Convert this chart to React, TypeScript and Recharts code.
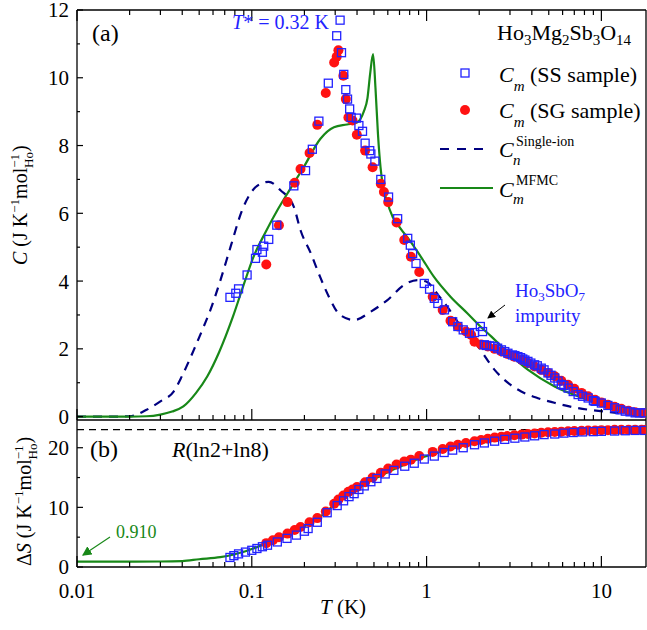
import React from 'react'
import { ComposedChart, Line, Scatter, XAxis, YAxis, ReferenceLine } from 'recharts'

// panel (a): heat capacity, [T (K), C (J K^-1 mol_Ho^-1)]
const ssHeat: [number, number][] = [
  [0.075, 3.52], [0.081, 3.64], [0.084, 3.77], [0.094, 4.18], [0.105, 4.67], [0.107, 4.93],
  [0.115, 4.85], [0.117, 5.03], [0.125, 5.23], [0.139, 5.65], [0.174, 6.81], [0.203, 7.26],
  [0.222, 7.89], [0.242, 8.72], [0.274, 9.84], [0.306, 11.24], [0.32, 11.7], [0.326, 10.74],
  [0.336, 10.1], [0.345, 9.65], [0.353, 9.37], [0.363, 9.08], [0.37, 8.83], [0.397, 8.81],
  [0.41, 8.59], [0.43, 8.42], [0.445, 8.07], [0.473, 7.85], [0.48, 7.75], [0.506, 7.54],
  [0.547, 7.0], [0.606, 6.48], [0.683, 5.84], [0.78, 5.26], [0.807, 5.06], [0.832, 4.81],
  [0.87, 4.52], [0.97, 3.93], [1.04, 3.76], [1.107, 3.49], [1.16, 3.34], [1.265, 3.15],
  [1.41, 2.8], [1.51, 2.66], [1.62, 2.56], [1.76, 2.46], [1.88, 2.48], [2.03, 2.66],
  [2.09, 2.51], [2.14, 2.12], [2.2, 2.1], [2.3, 2.09], [2.45, 2.07], [2.55, 2.02],
  [2.68, 1.97], [2.8, 1.92], [2.92, 1.87], [3.1, 1.82], [3.2, 1.8], [3.33, 1.77],
  [3.45, 1.74], [3.55, 1.7], [3.65, 1.67], [3.8, 1.63], [3.95, 1.58], [4.15, 1.53],
  [4.3, 1.5], [4.53, 1.43], [4.7, 1.38], [4.95, 1.29], [5.15, 1.22], [5.41, 1.14],
  [5.65, 1.05], [5.9, 0.95], [6.1, 0.92], [6.45, 0.84], [6.9, 0.74], [7.36, 0.65],
  [7.8, 0.6], [8.4, 0.55], [9.0, 0.47], [9.2, 0.45], [10.0, 0.4], [10.9, 0.33],
  [11.9, 0.26], [12.8, 0.2], [13.7, 0.16], [14.6, 0.14], [15.6, 0.11], [16.6, 0.11], [17.7, 0.11],
]

const sgHeat: [number, number][] = [
  [0.121, 4.49], [0.143, 5.65], [0.16, 6.33], [0.176, 6.9], [0.19, 7.31], [0.214, 7.78],
  [0.237, 8.61], [0.265, 9.55], [0.296, 10.45], [0.306, 10.62], [0.313, 10.81], [0.334, 10.06],
  [0.345, 9.37], [0.357, 8.83], [0.377, 8.74], [0.399, 8.32], [0.445, 7.85], [0.491, 7.36],
  [0.547, 6.87], [0.57, 6.63], [0.603, 6.33], [0.673, 5.73], [0.745, 5.21], [0.813, 4.72],
  [0.908, 4.27], [1.084, 3.54], [1.236, 3.15], [1.37, 2.83], [1.51, 2.66], [1.68, 2.51],
  [1.8, 2.41], [1.88, 2.21], [2.05, 2.13], [2.24, 2.07], [2.45, 2.0], [2.68, 1.92],
  [2.9, 1.85], [3.18, 1.77], [3.5, 1.68], [3.8, 1.58], [4.15, 1.48], [4.53, 1.38],
  [4.95, 1.29], [5.41, 1.19], [5.9, 1.06], [6.45, 0.94], [7.0, 0.82], [7.7, 0.7],
  [8.4, 0.6], [9.2, 0.5], [10.0, 0.42], [10.9, 0.35], [11.9, 0.29], [13.0, 0.23],
  [14.3, 0.17], [15.6, 0.13], [17.0, 0.11], [18.0, 0.11],
]

const singleIon: [number, number][] = [
  [0.01, 0], [0.015, 0], [0.02, 0.01], [0.025, 0.2], [0.03, 0.45], [0.0357, 0.74],
  [0.0398, 1.19], [0.0466, 1.97], [0.0531, 2.66], [0.058, 3.15], [0.0662, 4.03],
  [0.0755, 5.0], [0.088, 6.09], [0.098, 6.58], [0.112, 6.87], [0.125, 6.93], [0.146, 6.68],
  [0.174, 6.19], [0.19, 5.5], [0.218, 4.81], [0.247, 4.1], [0.276, 3.54], [0.32, 3.0],
  [0.385, 2.85], [0.48, 3.1], [0.597, 3.44], [0.75, 3.9], [0.89, 4.03], [1.0, 3.98],
  [1.16, 3.6], [1.33, 3.2], [1.6, 2.6], [1.97, 2.07], [2.45, 1.38], [3.0, 0.95],
  [3.48, 0.74], [4.3, 0.55], [5.38, 0.41], [7.0, 0.27], [10.4, 0.15], [14.0, 0.08], [18.0, 0.05],
]

const mfmcHeat: [number, number][] = [
  [0.01, 0], [0.02, 0], [0.025, 0.01], [0.03, 0.06], [0.035, 0.15], [0.0406, 0.3],
  [0.048, 0.7], [0.0557, 1.19], [0.065, 1.9], [0.078, 2.95], [0.09, 3.9], [0.102, 4.7],
  [0.12, 5.45], [0.14, 6.09], [0.165, 6.7], [0.198, 7.36], [0.247, 8.2], [0.295, 8.54],
  [0.35, 8.62], [0.4, 8.68], [0.437, 9.0], [0.459, 9.4], [0.475, 10.1], [0.494, 10.7],
  [0.51, 9.7], [0.527, 8.34], [0.545, 7.36], [0.56, 6.87], [0.59, 6.4], [0.64, 5.89],
  [0.71, 5.55], [0.8, 5.2], [0.93, 4.71], [1.1, 4.13], [1.37, 3.54], [1.71, 3.05],
  [2.03, 2.66], [2.35, 2.36], [2.68, 2.07], [3.81, 1.38], [5.4, 0.89], [8.4, 0.5],
  [13.0, 0.22], [18.0, 0.16],
]

// panel (b): entropy, [T (K), dS (J K^-1 mol_Ho^-1)]
const ssEntropy: [number, number][] = [
  [0.075, 1.6], [0.079, 1.9], [0.084, 2.2], [0.092, 2.5], [0.1, 2.8], [0.107, 3.1],
  [0.115, 3.4], [0.123, 3.65], [0.14, 4.2], [0.159, 4.8], [0.18, 5.35], [0.2, 6.0],
  [0.21, 6.45], [0.237, 7.5], [0.27, 9.1], [0.308, 10.3], [0.335, 11.1], [0.36, 11.8],
  [0.385, 12.3], [0.41, 13.0], [0.44, 13.6], [0.48, 14.3], [0.52, 14.85], [0.58, 15.6],
  [0.65, 16.2], [0.75, 16.9], [0.85, 17.4], [0.97, 18.1], [1.107, 18.6], [1.26, 19.2],
  [1.41, 19.6], [1.62, 20.0], [1.88, 20.5], [2.14, 20.8], [2.45, 21.1], [2.8, 21.4],
  [3.2, 21.6], [3.65, 21.8], [4.15, 22.0], [4.7, 22.2], [5.41, 22.3], [6.1, 22.45],
  [6.9, 22.55], [7.8, 22.65], [9.0, 22.7], [10.0, 22.75], [11.9, 22.8], [13.7, 22.85],
  [15.6, 22.9], [17.7, 22.9],
]

const sgEntropy: [number, number][] = [
  [0.121, 4.0], [0.132, 4.5], [0.143, 5.0], [0.16, 5.6], [0.176, 6.2], [0.19, 6.7],
  [0.214, 7.5], [0.237, 8.2], [0.265, 9.3], [0.296, 10.6], [0.313, 11.3], [0.334, 12.0],
  [0.357, 12.6], [0.377, 13.0], [0.4, 13.4], [0.445, 14.2], [0.491, 15.0], [0.547, 15.8],
  [0.603, 16.5], [0.673, 17.2], [0.745, 17.7], [0.813, 18.0], [0.908, 18.6], [1.084, 19.3],
  [1.236, 19.8], [1.37, 20.2], [1.51, 20.5], [1.68, 20.8], [1.88, 21.1], [2.05, 21.3],
  [2.24, 21.5], [2.45, 21.7], [2.68, 21.85], [2.9, 21.95], [3.18, 22.1], [3.5, 22.2],
  [3.8, 22.3], [4.15, 22.4], [4.53, 22.5], [4.95, 22.6], [5.41, 22.65], [5.9, 22.7],
  [6.45, 22.75], [7.0, 22.8], [7.7, 22.85], [8.4, 22.9], [9.2, 22.9], [10.0, 22.95],
  [10.9, 22.95], [11.9, 23.0], [13.0, 23.0], [14.3, 23.0], [15.6, 23.0], [17.0, 23.0], [18.0, 23.0],
]

const mfmcEntropy: [number, number][] = [
  [0.01, 0.91], [0.02, 0.91], [0.03, 0.92], [0.04, 1.0], [0.05, 1.3], [0.066, 1.65],
  [0.079, 2.1], [0.09, 2.55], [0.102, 3.1], [0.12, 3.9], [0.146, 5.0], [0.17, 5.9],
  [0.199, 6.8], [0.24, 8.2], [0.283, 9.9], [0.33, 11.4], [0.385, 12.8], [0.45, 14.0],
  [0.547, 15.3], [0.65, 16.4], [0.78, 17.4], [0.95, 18.4], [1.107, 19.0], [1.43, 20.0],
  [2.25, 21.0], [3.5, 21.85], [5.4, 22.3], [8.4, 22.6], [13.0, 22.86], [18.0, 22.97],
]

const R_LN16 = 23.05

const T_TICKS = [
  0.01, 0.02, 0.03, 0.04, 0.05, 0.06, 0.07, 0.08, 0.09,
  0.1, 0.2, 0.3, 0.4, 0.5, 0.6, 0.7, 0.8, 0.9,
  1, 2, 3, 4, 5, 6, 7, 8, 9, 10,
]
const T_LABELS = [0.01, 0.1, 1, 10]
const C_TICKS = [0, 1, 2, 3, 4, 5, 6, 7, 8, 9, 10, 11, 12]
const C_LABELS = [0, 2, 4, 6, 8, 10, 12]
const S_TICKS = [0, 5, 10, 15, 20]
const S_LABELS = [0, 10, 20]

const T_DOMAIN: [number, number] = [0.01, 18]
const C_DOMAIN: [number, number] = [-0.1, 12]
const S_DOMAIN: [number, number] = [0, 24.65]

// frame geometry shared by both charts (plot boxes set by the margins below)
const LEFT = 77
const RIGHT = 646
const A_TOP = 10
const A_BOTTOM = 420
const B_BOTTOM = 567

const SERIF = '"Liberation Serif", "Times New Roman", serif'
const BLUE = '#2323ff'
const RED = '#ff1212'
const NAVY = '#000080'
const GREEN = '#188818'

const rows = (pts: [number, number][]) => pts.map(([t, v]) => ({ t, v }))

const square = (p: any) => (
  <rect x={p.cx - 4} y={p.cy - 4} width={8} height={8} fill="none" stroke={BLUE} strokeWidth={1.3} />
)
const dot = (p: any) => <circle cx={p.cx} cy={p.cy} r={5} fill={RED} />

const axisLine = { stroke: '#000', strokeWidth: 1.3 }
const tickFont = { fontSize: 21, fontFamily: SERIF, fill: '#000' }

const tAxis = {
  dataKey: 't',
  type: 'number' as const,
  scale: 'log' as const,
  domain: T_DOMAIN,
  allowDataOverflow: true,
  interval: 0 as const,
  height: 1,
  stroke: '#000',
  tickLine: false,
  tickSize: 0,
  axisLine,
}

function HeatPanel() {
  return (
    <ComposedChart width={647} height={630}
      margin={{ top: A_TOP, right: 647 - RIGHT - 1, bottom: 630 - A_BOTTOM - 1, left: LEFT - 1 }}>
      <XAxis {...tAxis} ticks={T_LABELS} tick={false} />
      <YAxis type="number" domain={C_DOMAIN} allowDataOverflow ticks={C_LABELS} interval={0} width={1}
        stroke="#000" tickLine={false} tickSize={0} tickMargin={8} axisLine={axisLine} tick={tickFont} />
      <YAxis yAxisId="right" orientation="right" type="number" domain={C_DOMAIN} width={1}
        tick={false} tickLine={false} axisLine={axisLine} />
      <ReferenceLine y={C_DOMAIN[1]} stroke="#000" strokeWidth={1.3} />
      <Scatter data={rows(sgHeat)} dataKey="v" shape={dot} isAnimationActive={false} />
      <Scatter data={rows(ssHeat)} dataKey="v" shape={square} isAnimationActive={false} />
      <Line data={rows(singleIon)} dataKey="v" type="monotone" stroke={NAVY} strokeWidth={2.2}
        strokeDasharray="9 7" dot={false} activeDot={false} isAnimationActive={false} />
      <Line data={rows(mfmcHeat)} dataKey="v" type="monotone" stroke={GREEN} strokeWidth={2.2}
        dot={false} activeDot={false} isAnimationActive={false} />
    </ComposedChart>
  )
}

function EntropyPanel() {
  return (
    <ComposedChart width={647} height={630}
      margin={{ top: A_BOTTOM, right: 647 - RIGHT - 1, bottom: 630 - B_BOTTOM - 1, left: LEFT - 1 }}>
      <XAxis {...tAxis} ticks={T_LABELS} tickMargin={16} tick={tickFont} />
      <YAxis type="number" domain={S_DOMAIN} allowDataOverflow ticks={S_LABELS} interval={0} width={1}
        stroke="#000" tickLine={false} tickSize={0} tickMargin={8} axisLine={axisLine} tick={tickFont} />
      <YAxis yAxisId="right" orientation="right" type="number" domain={S_DOMAIN} width={1}
        tick={false} tickLine={false} axisLine={axisLine} />
      <ReferenceLine y={R_LN16} stroke="#000" strokeWidth={1.2} strokeDasharray="7 5" />
      <Scatter data={rows(sgEntropy)} dataKey="v" shape={dot} isAnimationActive={false} />
      <Scatter data={rows(ssEntropy)} dataKey="v" shape={square} isAnimationActive={false} />
      <Line data={rows(mfmcEntropy)} dataKey="v" type="monotone" stroke={GREEN} strokeWidth={2.2}
        dot={false} activeDot={false} isAnimationActive={false} />
    </ComposedChart>
  )
}

// inward tick marks on the frames, same log / linear mapping as the chart boxes
const tx = (t: number) =>
  LEFT + ((Math.log10(t) - Math.log10(T_DOMAIN[0])) / Math.log10(T_DOMAIN[1] / T_DOMAIN[0])) * (RIGHT - LEFT)
const cy = (v: number) => A_BOTTOM - ((v - C_DOMAIN[0]) / (C_DOMAIN[1] - C_DOMAIN[0])) * (A_BOTTOM - A_TOP)
const sy = (v: number) => B_BOTTOM - ((v - S_DOMAIN[0]) / (S_DOMAIN[1] - S_DOMAIN[0])) * (B_BOTTOM - A_BOTTOM)

function FrameTicks() {
  const k = { stroke: '#000', strokeWidth: 1.2 }
  return (
    <g>
      {T_TICKS.map((t) => {
        const len = T_LABELS.includes(t) ? 11 : 5
        const x = tx(t)
        return (
          <g key={'t' + t}>
            <line x1={x} x2={x} y1={A_BOTTOM} y2={A_BOTTOM - len} {...k} />
            <line x1={x} x2={x} y1={A_TOP} y2={A_TOP + len} {...k} />
            <line x1={x} x2={x} y1={B_BOTTOM} y2={B_BOTTOM - len} {...k} />
          </g>
        )
      })}
      {C_TICKS.map((v) => (
        <line key={'c' + v} x1={LEFT} x2={LEFT + (C_LABELS.includes(v) ? 6 : 3)} y1={cy(v)} y2={cy(v)} {...k} />
      ))}
      {S_TICKS.map((v) => (
        <line key={'s' + v} x1={LEFT} x2={LEFT + (S_LABELS.includes(v) ? 6 : 3)} y1={sy(v)} y2={sy(v)} {...k} />
      ))}
    </g>
  )
}

function Annotations() {
  const it = { fontStyle: 'italic' as const }
  return (
    <svg width={647} height={630} style={{ position: 'absolute', left: 0, top: 0, pointerEvents: 'none' }}
      fontFamily={SERIF}>
      <defs>
        <marker id="headK" markerWidth="8" markerHeight="8" refX="7" refY="4" orient="auto">
          <path d="M0,0 L8,4 L0,8 Z" fill="#000" />
        </marker>
        <marker id="headG" markerWidth="8" markerHeight="8" refX="7" refY="4" orient="auto">
          <path d="M0,0 L8,4 L0,8 Z" fill={GREEN} />
        </marker>
      </defs>

      <FrameTicks />

      <text x={92} y={41} fontSize={24}>(a)</text>
      <text x={232} y={29} fontSize={20} fill={BLUE}><tspan {...it}>T</tspan>* = 0.32 K</text>

      {/* legend */}
      <text x={497} y={40} fontSize={22}>
        Ho<tspan fontSize={15} dy={5}>3</tspan><tspan dy={-5}>Mg</tspan><tspan fontSize={15} dy={5}>2</tspan>
        <tspan dy={-5}>Sb</tspan><tspan fontSize={15} dy={5}>3</tspan><tspan dy={-5}>O</tspan>
        <tspan fontSize={15} dy={5}>14</tspan>
      </text>
      <rect x={461} y={69} width={8} height={8} fill="none" stroke={BLUE} strokeWidth={1.3} />
      <text x={499} y={82} fontSize={22}>
        <tspan {...it}>C</tspan><tspan {...it} fontSize={15} dy={9}>m</tspan><tspan dy={-9}> (SS sample)</tspan>
      </text>
      <circle cx={465} cy={110} r={5} fill={RED} />
      <text x={499} y={118} fontSize={22}>
        <tspan {...it}>C</tspan><tspan {...it} fontSize={15} dy={9}>m</tspan><tspan dy={-9}> (SG sample)</tspan>
      </text>
      <line x1={440} x2={488} y1={149} y2={149} stroke={NAVY} strokeWidth={2.2} strokeDasharray="9 8" />
      <text x={499} y={157} fontSize={22} {...it}>C</text>
      <text x={513} y={165} fontSize={15} {...it}>n</text>
      <text x={516} y={146} fontSize={14}>Single-ion</text>
      <line x1={440} x2={493} y1={188} y2={188} stroke={GREEN} strokeWidth={2.2} />
      <text x={499} y={197} fontSize={22} {...it}>C</text>
      <text x={513} y={204} fontSize={15} {...it}>m</text>
      <text x={516} y={185} fontSize={14}>MFMC</text>

      {/* impurity note */}
      <text x={515} y={297} fontSize={19} fill={BLUE}>
        Ho<tspan fontSize={13} dy={4}>3</tspan><tspan dy={-4}>SbO</tspan><tspan fontSize={13} dy={4}>7</tspan>
      </text>
      <text x={515} y={322} fontSize={19} fill={BLUE}>impurity</text>
      <line x1={505} y1={305} x2={488} y2={318} stroke="#000" strokeWidth={1} markerEnd="url(#headK)" />

      {/* panel (b) */}
      <text x={90} y={457} fontSize={24}>(b)</text>
      <text x={172} y={457} fontSize={22}><tspan {...it}>R</tspan>(ln2+ln8)</text>
      <text x={116} y={538} fontSize={18} fill={GREEN}>0.910</text>
      <line x1={110} y1={537} x2={83} y2={555} stroke={GREEN} strokeWidth={1.2} markerEnd="url(#headG)" />

      {/* axis titles */}
      <text x={320} y={614} fontSize={21}><tspan {...it}>T</tspan> (K)</text>
      <text x={27} y={265} fontSize={20} transform="rotate(-90 27 265)">
        <tspan {...it}>C</tspan> (J K<tspan fontSize={13} dy={-8}>−1</tspan><tspan dy={8}>mol</tspan>
        <tspan fontSize={13} dy={-8}>−1</tspan><tspan fontSize={13} dx={-14} dy={14}>Ho</tspan>
        <tspan dy={-6}>)</tspan>
      </text>
      <text x={31} y={566} fontSize={20} transform="rotate(-90 31 566)">
        Δ<tspan {...it}>S</tspan> (J K<tspan fontSize={13} dy={-8}>−1</tspan><tspan dy={8}>mol</tspan>
        <tspan fontSize={13} dy={-8}>−1</tspan><tspan fontSize={13} dx={-14} dy={14}>Ho</tspan>
        <tspan dy={-6}>)</tspan>
      </text>
    </svg>
  )
}

export default function App() {
  return (
    <div style={{ position: 'absolute', left: 0, top: 0, width: 647, height: 630, background: '#fff' }}>
      <div style={{ position: 'absolute', left: 0, top: 0 }}><HeatPanel /></div>
      <div style={{ position: 'absolute', left: 0, top: 0 }}><EntropyPanel /></div>
      <Annotations />
    </div>
  )
}
